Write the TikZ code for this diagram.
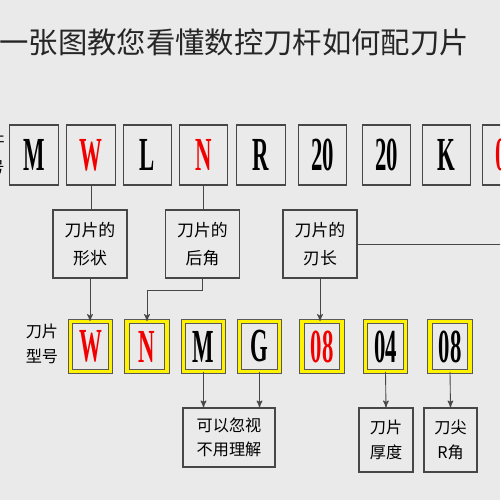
\documentclass[tikz,border=0pt]{standalone}
\usepackage{fontspec}
\setmainfont{Liberation Serif}
\newfontfamily\cjk{Noto Sans CJK SC}
\usepackage{tikz}
\usetikzlibrary{positioning,arrows}
\definecolor{paper}{HTML}{EAEAEA}
\definecolor{edgegray}{HTML}{474747}
\definecolor{hot}{HTML}{F20000}
\newcommand{\narrow}[1]{\scalebox{0.48}[1]{#1}}
\tikzset{
  basic/.style    = {draw=edgegray, line width=0.7pt, inner sep=0pt, align=center},
  holdbox/.style  = {basic, minimum width=0.97cm, minimum height=1.2cm,
                     font=\fontsize{27}{27}\selectfont\bfseries},
  chipbox/.style  = {basic, draw=black!65, line width=0.5pt, double=yellow,
                     double distance=2pt, minimum width=0.8cm, minimum height=1cm,
                     font=\fontsize{27}{27}\selectfont\bfseries},
  redtext/.style  = {text=hot},
  meaning/.style  = {basic, minimum width=1.48cm, minimum height=1.36cm,
                     font=\cjk\fontsize{9.6}{16}\selectfont},
  remark/.style   = {basic, minimum height=1.28cm,
                     font=\cjk\fontsize{9.2}{14}\selectfont},
  sidetag/.style  = {align=center, inner sep=0pt, font=\cjk\fontsize{9.2}{14}\selectfont},
  post/.style     = {->, >=stealth', line width=0.5pt, draw=edgegray},
  wire/.style     = {line width=0.5pt, draw=edgegray}
}
\begin{document}
\begin{tikzpicture}[x=0.02cm, y=-0.02cm]
  \useasboundingbox (0,0) rectangle (500,500);
  \clip (0,0) rectangle (500,500);
  \fill[paper] (0,0) rectangle (500,500);
  \node[anchor=west, inner sep=0pt, text=black!85,
        font=\cjk\fontsize{16.7}{16.7}\selectfont] (title) at (-1,42)
        {一张图教您看懂数控刀杆如何配刀片};

  % tool holder code
  \node[sidetag, anchor=east] (holdertag) at (5,155) {刀杆\\型号};
  \node[holdbox] (h1) at (34,155)  {\narrow{M}};
  \node[holdbox, redtext] (h2) at (91,155)  {\narrow{W}};
  \node[holdbox] (h3) at (147.5,155) {\narrow{L}};
  \node[holdbox, redtext] (h4) at (203.5,155) {\narrow{N}};
  \node[holdbox] (h5) at (261,155) {\narrow{R}};
  \node[holdbox] (h6) at (322.5,155) {\narrow{20}};
  \node[holdbox] (h7) at (386.5,155) {\narrow{20}};
  \node[holdbox] (h8) at (446.5,155) {\narrow{K}};
  \node[holdbox, redtext] (h9) at (507,155) {\narrow{08}};

  % what the letters mean
  \node[meaning] (shape) at (90,244)    {刀片的\\形状};
  \node[meaning] (clear) at (202.5,244) {刀片的\\后角};
  \node[meaning] (edgelen) at (320,244) {刀片的\\刃长};
  \coordinate (offright) at (501,244);

  % insert code
  \node[sidetag] (chiptag) at (42,344) {刀片\\型号};
  \node[chipbox, redtext] (c1) at (90.5,346.5) {\narrow{W}};
  \node[chipbox, redtext] (c2) at (147,346.5)  {\narrow{N}};
  \node[chipbox] (c3) at (203.5,346.5) {\narrow{M}};
  \node[chipbox] (c4) at (259.5,346.5) {\narrow{G}};
  \node[chipbox, redtext] (c5) at (322,346.5) {\narrow{08}};
  \node[chipbox] (c6) at (385.5,346.5) {\narrow{04}};
  \node[chipbox] (c7) at (450,346.5)   {\narrow{08}};

  % notes below
  \node[remark, minimum width=1.84cm, minimum height=1.18cm] (ignore) at (229,437.5) {可以忽视\\不用理解};
  \node[remark, minimum width=1.08cm] (thick) at (386,440) {刀片\\厚度};
  \node[remark, minimum width=1.06cm] (radius) at (450.5,440) {刀尖\\R角};

  % connectors
  \draw[wire] (h2.south) -- (h2.south |- shape.north);
  \draw[wire] (h4.south) -- (h4.south |- clear.north);
  \draw[wire] (edgelen.east) -- (offright);
  \draw[post] (shape.south) -- (shape.south |- c1.north);
  \draw[post] (clear.south) -- ++(0,12) -| (c2.north);
  \draw[post] (edgelen.south) -- (edgelen.south |- c5.north);
  \draw[post] (c3.south) -- (c3.south |- ignore.north);
  \draw[post] (c4.south) -- (c4.south |- ignore.north);
  \draw[post] (c6.south) -- (thick.north);
  \draw[post] (c7.south) -- (radius.north);
\end{tikzpicture}
\end{document}
